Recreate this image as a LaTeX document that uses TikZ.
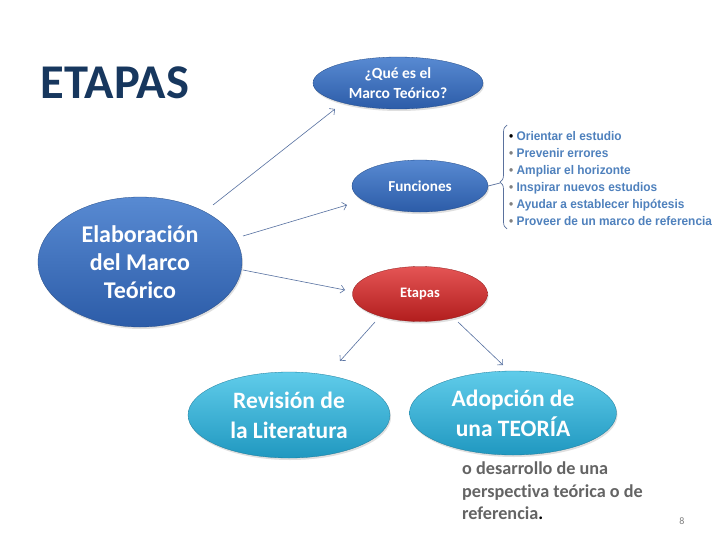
\documentclass[tikz,border=0pt]{standalone}
\usepackage{fontspec}
\setmainfont{Carlito}[Ligatures=NoCommon]
\newfontfamily\listfont[FakeStretch=0.95]{Liberation Sans}
\usepackage{xcolor}
\usetikzlibrary{shapes.geometric,arrows.meta,calc,shadows,decorations.pathreplacing}

\definecolor{titleblue}{RGB}{23,55,94}
\definecolor{blueTop}{RGB}{88,138,210}
\definecolor{blueBot}{RGB}{44,92,168}
\definecolor{cyanTop}{RGB}{96,204,234}
\definecolor{cyanBot}{RGB}{32,152,192}
\definecolor{redTop}{RGB}{228,84,84}
\definecolor{redBot}{RGB}{178,30,30}
\definecolor{arrowcol}{RGB}{86,112,160}
\definecolor{listblue}{RGB}{79,129,189}
\definecolor{footgray}{RGB}{100,100,100}

\tikzset{
  bubble/.style={ellipse, inner sep=0pt, text=white, align=center,
    font=\bfseries, drop shadow={opacity=0.25, shadow xshift=1pt, shadow yshift=-2pt}},
  bluebubble/.style={bubble, top color=blueTop, bottom color=blueBot, draw=blueBot!80!black, line width=0.3pt},
  cyanbubble/.style={bubble, top color=cyanTop, bottom color=cyanBot, draw=cyanBot!80!black, line width=0.3pt},
  redbubble/.style={bubble, top color=redTop, bottom color=redBot, draw=redBot!80!black, line width=0.3pt},
  arr/.style={draw=arrowcol, line width=0.6pt, -{Straight Barb[length=4pt,width=8pt]}}
}

\begin{document}
\begin{tikzpicture}[x=1pt,y=-1pt]
    \useasboundingbox (0,0) rectangle (728,546);
    \fill[white] (0,0) rectangle (728,546);

    % Title
    \node[font=\fontsize{48.5}{54}\selectfont\bfseries, text=titleblue] (title) at (115,83) {ETAPAS};

    % Main bubble
    \node[bluebubble, minimum width=204pt, minimum height=130pt,
          font=\fontsize{24}{28}\selectfont\bfseries] (elab) at (140,262)
          {Elaboración\\del Marco\\Teórico};

    % Right column
    \node[bluebubble, minimum width=170pt, minimum height=52pt,
          font=\fontsize{15.5}{20}\selectfont\bfseries] (que) at (398,83)
          {¿Qué es el\\Marco Teórico?};
    \node[bluebubble, minimum width=136pt, minimum height=52pt,
          font=\fontsize{15.2}{18}\selectfont\bfseries] (fun) at (420,186) {Funciones};
    \node[redbubble, minimum width=135pt, minimum height=55pt,
          font=\fontsize{14.5}{16}\selectfont\bfseries] (etapas) at (420,294) {Etapas};

    % Bottom bubbles
    \node[cyanbubble, minimum width=202pt, minimum height=86pt,
          font=\fontsize{23.5}{30}\selectfont\bfseries] (rev) at (289,415)
          {Revisión de\\la Literatura};
    \node[cyanbubble, minimum width=207pt, minimum height=84pt,
          font=\fontsize{23.5}{30}\selectfont\bfseries] (adop) at (513,413)
          {Adopción de\\una TEORÍA};

    % Arrows
    \draw[arr] ($(elab)+(73,-57)$) -- ($(que)+(-63,26)$);
    \draw[arr] ($(elab)+(103,-26)$) -- ($(fun)+(-73,19)$);
    \draw[arr] ($(elab)+(103,8)$) -- ($(etapas)+(-75,-4)$);
    \draw[arr] ($(etapas)+(-45,28)$) -- ($(rev)+(51,-54)$);
    \draw[arr] ($(etapas)+(38,28)$) -- ($(adop)+(-10,-48)$);

    % Functions list with brace
    \coordinate (bbot) at (507,229);
    \coordinate (btop) at (507,125);
    \coordinate (btip) at (500,183);
    \draw[arrowcol!90!gray, line width=0.7pt, decorate,
          decoration={brace, amplitude=7pt, aspect=0.45}] (bbot) -- (btop);
    \draw[arrowcol!90!gray, line width=0.7pt] (fun.east) -- (btip);
    \node[anchor=north west, align=left, inner sep=0pt, text=listblue,
          font=\listfont\bfseries\fontsize{12.5}{17}\selectfont] (lista) at (509,131)
          {{\color{black}\textbullet}~Orientar el estudio\\
           {\color{gray}\textbullet}~Prevenir errores\\
           {\color{gray}\textbullet}~Ampliar el horizonte\\
           {\color{gray}\textbullet}~Inspirar nuevos estudios\\
           {\color{gray}\textbullet}~Ayudar a establecer hipótesis\\
           {\color{gray}\textbullet}~Proveer de un marco de referencia};

    % Footer
    \node[anchor=north west, align=left, inner sep=0pt, text=footgray,
          font=\fontsize{18.2}{22.5}\selectfont\bfseries] (nota) at (462,462)
          {o desarrollo de una\\perspectiva teórica o de\\referencia{\color{black}.}};
    \node[text=gray, font=\fontsize{10}{12}\selectfont] (pag) at (682,521) {8};
\end{tikzpicture}
\end{document}
